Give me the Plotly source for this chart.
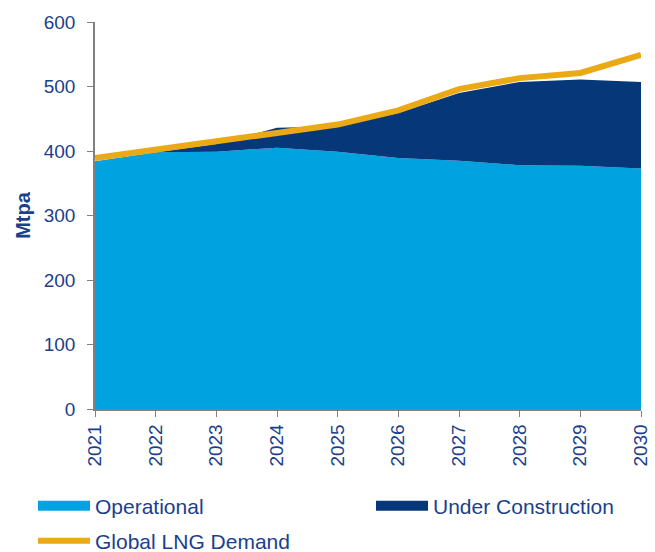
import plotly.graph_objects as go

years = [2021, 2022, 2023, 2024, 2025, 2026, 2027, 2028, 2029, 2030]
operational = [384, 398, 399, 405, 399, 389, 385, 378, 377, 373]
under_construction = [0, 0, 12, 31, 39, 70, 105, 129, 134, 134]
demand = [389, 401, 415, 428, 441, 463, 496, 513, 521, 549]

series_names = ["Operational", "Under Construction", "Global LNG Demand"]
colors = ["#00A3E0", "#063778", "#EAA915"]

TEXT = "#1B3F8B"
FONT = "Liberation Sans, Arial, sans-serif"

fig = go.Figure()
fig.add_trace(go.Scatter(x=years, y=operational, name=series_names[0], stackgroup="one",
                         mode="none", fillcolor=colors[0], showlegend=False))
fig.add_trace(go.Scatter(x=years, y=under_construction, name=series_names[1], stackgroup="one",
                         mode="none", fillcolor=colors[1], showlegend=False))
fig.add_trace(go.Scatter(x=years, y=demand, name=series_names[2], mode="lines",
                         line=dict(color=colors[2], width=6), legend="legend3"))
# legend-only entries for the areas (rectangular swatches)
fig.add_trace(go.Scatter(x=[None], y=[None], name=series_names[0], mode="lines",
                         line=dict(color=colors[0], width=10), legend="legend"))
fig.add_trace(go.Scatter(x=[None], y=[None], name=series_names[1], mode="lines",
                         line=dict(color=colors[1], width=10), legend="legend2"))

legend_common = dict(orientation="h", xref="container", xanchor="left",
                     yref="container", yanchor="middle", itemwidth=52,
                     font=dict(size=21, color=TEXT), bgcolor="rgba(0,0,0,0)")

fig.update_layout(
    width=655, height=552,
    margin=dict(l=95, r=14, t=22, b=143, autoexpand=False),
    paper_bgcolor="white", plot_bgcolor="white",
    font=dict(family=FONT, color=TEXT, size=19),
    legend=dict(**legend_common, x=33 / 655, y=1 - 506 / 552),
    legend2=dict(**legend_common, x=371 / 655, y=1 - 506 / 552),
    legend3=dict(**legend_common, x=33 / 655, y=1 - 541 / 552),
    showlegend=True,
)
fig.update_xaxes(range=[2021, 2030], tickmode="array", tickvals=years,
                 ticktext=[str(y) for y in years], tickangle=-90, automargin=False,
                 showline=True, linecolor="#808080", linewidth=1.5,
                 ticks="outside", ticklen=6, tickcolor="#808080", showgrid=False, zeroline=False,
                 tickfont=dict(size=19, color=TEXT))
fig.update_yaxes(range=[0, 600], dtick=100, showline=True, linecolor="#808080", linewidth=1.5,
                 ticks="outside", ticklen=6, tickcolor="#808080", showgrid=False, zeroline=False,
                 automargin=False, ticklabelstandoff=8,
                 tickfont=dict(size=19, color=TEXT),
                 title=dict(text="<b>Mtpa</b>", font=dict(size=20, color=TEXT), standoff=8))

fig.write_html("out.html", config={"displayModeBar": False},
               post_script="document.body.style.margin='0px';")
